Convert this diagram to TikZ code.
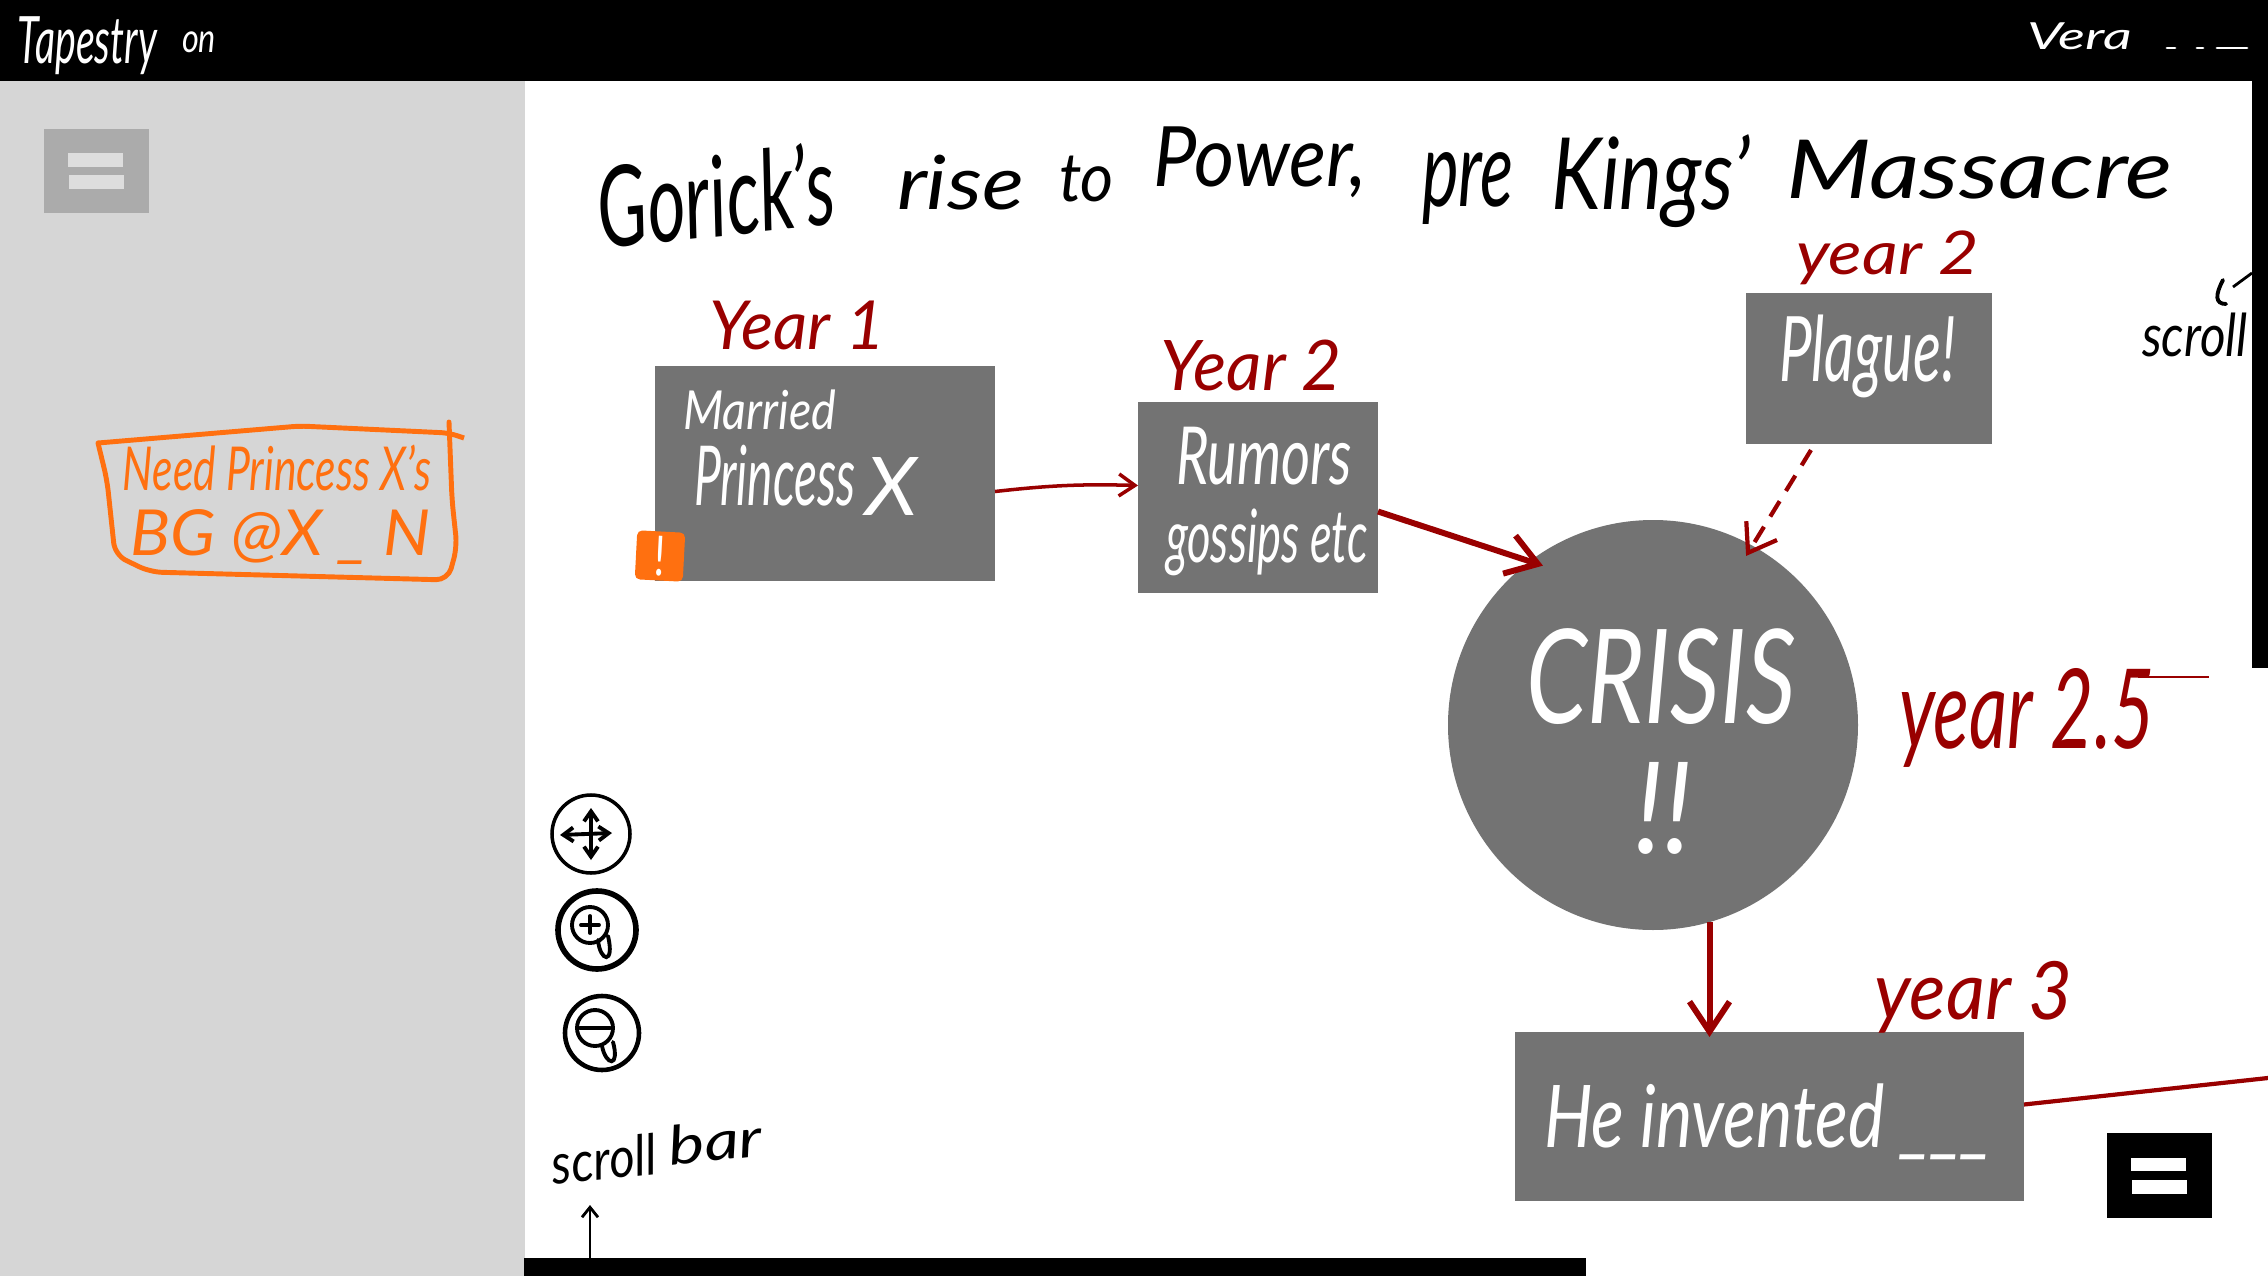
\documentclass[tikz,border=0pt]{standalone}
\usepackage{graphicx}
\usepackage{fontspec}
\setmainfont{Lato}
\usetikzlibrary{arrows.meta}
\definecolor{sidegray}{HTML}{D6D6D6}
\definecolor{boxgray}{HTML}{737373}
\definecolor{btngray}{HTML}{ABABAB}
\definecolor{btnbar}{HTML}{DDDDDD}
\definecolor{inkred}{HTML}{990000}
\definecolor{inkorange}{HTML}{FF7010}
\newcommand{\fitbox}[3]{\resizebox*{#1cm}{#2cm}{#3}}
\tikzstyle{panel} = [rectangle, anchor=north west, inner sep=0pt, outer sep=0pt]
\tikzstyle{hand} = [anchor=north west, inner sep=0pt, outer sep=0pt, font=\itshape]
\tikzstyle{redthin} = [draw=inkred, line width=1pt, -{Straight Barb[length=1.6mm,width=2.2mm]}]
\tikzstyle{redthick} = [draw=inkred, line width=1.7pt, -{Straight Barb[length=3mm,width=4mm]}]
\tikzstyle{lens} = [black, line width=1.1pt, line cap=round]

\begin{document}
\begin{tikzpicture}
    \useasboundingbox (0,0) rectangle (22.68,-12.76);
    \fill [white] (0,0) rectangle (22.68,-12.76);

    % screen frame
    \node (sidebar) [panel, fill=sidegray, minimum width=5.25cm, minimum height=11.95cm] at (0,-0.81) {};
    \node (topbar) [panel, fill=black, minimum width=22.68cm, minimum height=0.81cm] at (0,0) {};
    \node (rightbar) [panel, fill=black, minimum width=0.16cm, minimum height=5.87cm] at (22.52,-0.81) {};
    \node (scrollbar) [panel, fill=black, minimum width=10.62cm, minimum height=0.18cm] at (5.24,-12.58) {};

    \node (tapestry) [hand, white] at (0.18,-0.17) {\fitbox{1.39}{0.58}{Tapestry}};
    \node (on) [hand, white] at (1.82,-0.32) {\fitbox{0.34}{0.21}{on}};
    \node (vera) [hand, white] at (20.27,-0.23) {\fitbox{1.05}{0.27}{Vera}};
    \foreach \a/\b in {21.67/21.75,21.97/22.03,22.17/22.47}
    {
        \draw [white, line width=0.8pt, line cap=round] (\a,-0.48) -- (\b,-0.48);
    }

    % menu buttons
    \node (menuside) [panel, fill=btngray, minimum width=1.05cm, minimum height=0.84cm] at (0.44,-1.29) {};
    \fill [btnbar] (0.68,-1.53) rectangle (1.225,-1.67);
    \fill [btnbar] (0.693,-1.75) rectangle (1.236,-1.89);
    \node (menumain) [panel, fill=black, minimum width=1.05cm, minimum height=0.85cm] at (21.07,-11.33) {};
    \fill [white] (21.31,-11.58) rectangle (21.86,-11.71);
    \fill [white] (21.32,-11.80) rectangle (21.87,-11.94);

    % title
    \node (title1) [hand, anchor=center, rotate=6] at (7.16,-1.95) {\fitbox{2.38}{0.85}{Gorick's}};
    \node (title2) [hand] at (8.97,-1.55) {\fitbox{1.27}{0.55}{rise}};
    \node (title3) [hand] at (10.59,-1.56) {\fitbox{0.55}{0.46}{to}};
    \node (title4) [hand] at (11.53,-1.27) {\fitbox{2.14}{0.71}{Power,}};
    \node (title5) [hand] at (14.22,-1.52) {\fitbox{0.92}{0.72}{pre}};
    \node (title6) [hand] at (15.51,-1.35) {\fitbox{1.99}{0.93}{Kings'}};
    \node (title7) [hand] at (17.86,-1.40) {\fitbox{3.87}{0.59}{Massacre}};

    % boxes
    \node (married) [panel, fill=boxgray, minimum width=3.40cm, minimum height=2.15cm] at (6.55,-3.66) {};
    \node (rumors) [panel, fill=boxgray, minimum width=2.40cm, minimum height=1.91cm] at (11.38,-4.02) {};
    \node (plague) [panel, fill=boxgray, minimum width=2.46cm, minimum height=1.51cm] at (17.46,-2.93) {};
    \node (crisis) [circle, fill=boxgray, minimum size=4.10cm, inner sep=0pt, outer sep=0pt] at (16.53,-7.25) {};
    \node (invented) [panel, fill=boxgray, minimum width=5.09cm, minimum height=1.69cm] at (15.15,-10.32) {};

    \node (marriedtxt) [hand, white] at (6.83,-3.90) {\fitbox{1.53}{0.40}{Married}};
    \node (princesstxt) [hand, white] at (6.94,-4.45) {\fitbox{1.62}{0.61}{Princess}};
    \node (xtxt) [hand, white] at (8.65,-4.57) {\fitbox{0.52}{0.58}{X}};
    \node (rumorstxt) [hand, white] at (11.76,-4.27) {\fitbox{1.76}{0.58}{Rumors}};
    \node (gossiptxt) [hand, white] at (11.66,-5.09) {\fitbox{2.02}{0.67}{gossips etc}};
    \node (plaguetxt) [hand, white] at (17.79,-3.15) {\fitbox{1.77}{0.83}{Plague!}};
    \node (crisistxt) [hand, white] at (15.26,-6.29) {\fitbox{2.70}{0.96}{CRISIS}};
    \node (bangtxt) [hand, white] at (16.34,-7.62) {\fitbox{0.58}{0.92}{!!}};
    \node (inventedtxt) [hand, white] at (15.44,-10.84) {\fitbox{4.48}{0.76}{He invented \_\_\_}};

    % years
    \node (year1) [hand, inkred] at (7.09,-3.01) {\fitbox{1.76}{0.49}{Year 1}};
    \node (year2a) [hand, inkred] at (11.60,-3.40) {\fitbox{1.82}{0.51}{Year 2}};
    \node (year2b) [hand, inkred] at (17.96,-2.31) {\fitbox{1.83}{0.54}{year 2}};
    \node (year25) [hand, inkred] at (18.99,-6.68) {\fitbox{2.56}{0.99}{year 2.5}};
    \node (year3) [hand, inkred] at (18.74,-9.61) {\fitbox{1.99}{0.72}{year 3}};

    % connectors
    \coordinate (offpage) at (22.68,-10.78);
    \coordinate (fivetail) at (22.09,-6.77);
    \draw [redthin] ([yshift=-0.18cm]married.east) to [bend left=4] ([yshift=0.12cm]rumors.west);
    \draw [redthick, shorten >=-0.14cm] ([yshift=-0.14cm]rumors.east) -- (crisis.127);
    \draw [redthin, line width=1.2pt, dash pattern=on 1.8mm off 1.2mm, -{Straight Barb[length=2.6mm,width=3.6mm]}, shorten >=-0.12cm] ([xshift=-0.58cm,yshift=-0.06cm]plague.south) -- (crisis.61);
    \draw [redthick, shorten >=-0.05cm] (crisis.-74) -- (crisis.-74 |- invented.north);
    \draw [draw=inkred, line width=1.2pt] ([yshift=0.12cm]invented.east) -- (offpage);
    \draw [draw=inkred, line width=0.8pt] (21.38,-6.77) -- (fivetail);

    % sticky note on the side panel
    \draw [inkorange, line width=1.4pt, rounded corners=0.08cm] (0.98,-4.43) -- (3.0,-4.26) -- (4.49,-4.33) -- (4.64,-4.38);
    \draw [inkorange, line width=1.4pt, rounded corners=0.12cm, line cap=round] (4.49,-4.22) -- (4.52,-5.0) -- (4.57,-5.47) -- (4.48,-5.80) -- (1.50,-5.72) -- (1.15,-5.55) -- (1.07,-4.80) -- (0.98,-4.43);
    \node (notetop) [hand, inkorange] at (1.23,-4.45) {\fitbox{3.08}{0.46}{Need Princess X's}};
    \node (notebot) [hand, inkorange] at (1.31,-5.10) {\fitbox{3.00}{0.55}{BG @X \_ N}};
    \node (alert) [fill=inkorange, rounded corners=0.05cm, minimum width=0.48cm, minimum height=0.49cm, inner sep=0pt, rotate=-3, text=white] at (6.60,-5.56) {\fitbox{0.11}{0.40}{!}};

    % navigation icons
    \node (moveicon) [circle, draw=black, line width=1pt, minimum size=0.78cm, inner sep=0pt] at (5.91,-8.34) {};
    \node (zoomin) [circle, draw=black, line width=1.6pt, minimum size=0.78cm, inner sep=0pt] at (5.97,-9.30) {};
    \node (zoomout) [circle, draw=black, line width=1.3pt, minimum size=0.74cm, inner sep=0pt] at (6.02,-10.33) {};
    \draw [lens, {Straight Barb[length=1mm,width=1.4mm]}-{Straight Barb[length=1mm,width=1.4mm]}] (5.91,-8.08) -- (5.91,-8.60);
    \draw [lens, {Straight Barb[length=1mm,width=1.4mm]}-{Straight Barb[length=1mm,width=1.4mm]}] (5.60,-8.35) -- (6.12,-8.33);
    \draw [lens] (5.90,-9.25) circle (0.18);
    \draw [lens] (5.90,-9.16) -- (5.90,-9.33) (5.81,-9.25) -- (5.99,-9.25);
    \draw [lens] (5.98,-9.40) .. controls (6.00,-9.62) and (6.15,-9.65) .. (6.08,-9.36);
    \draw [lens] (5.95,-10.28) circle (0.18);
    \draw [lens] (5.80,-10.28) -- (6.10,-10.28);
    \draw [lens] (6.02,-10.46) .. controls (6.06,-10.66) and (6.20,-10.68) .. (6.13,-10.42);

    % scroll notes
    \node (scrolltop) [hand] at (21.42,-3.13) {\fitbox{1.06}{0.44}{scroll}};
    \draw [black, line width=1.1pt, line cap=round] (22.23,-2.80) .. controls (22.15,-2.95) and (22.15,-3.04) .. (22.26,-3.04);
    \draw [black, line width=0.8pt] (22.33,-2.87) -- (rightbar.west |- 0,-2.73);
    \node (scrollbot) [hand, anchor=center, rotate=6] at (6.04,-11.59) {\fitbox{1.05}{0.42}{scroll}};
    \node (barbot) [hand, anchor=center, rotate=6] at (7.15,-11.41) {\fitbox{0.94}{0.40}{bar}};
    \coordinate (scrollup) at (5.90,-12.05);
    \draw [black, line width=0.8pt, -{Straight Barb[length=1mm,width=1.6mm]}] (scrollup |- scrollbar.north) -- (scrollup);
\end{tikzpicture}
\end{document}
